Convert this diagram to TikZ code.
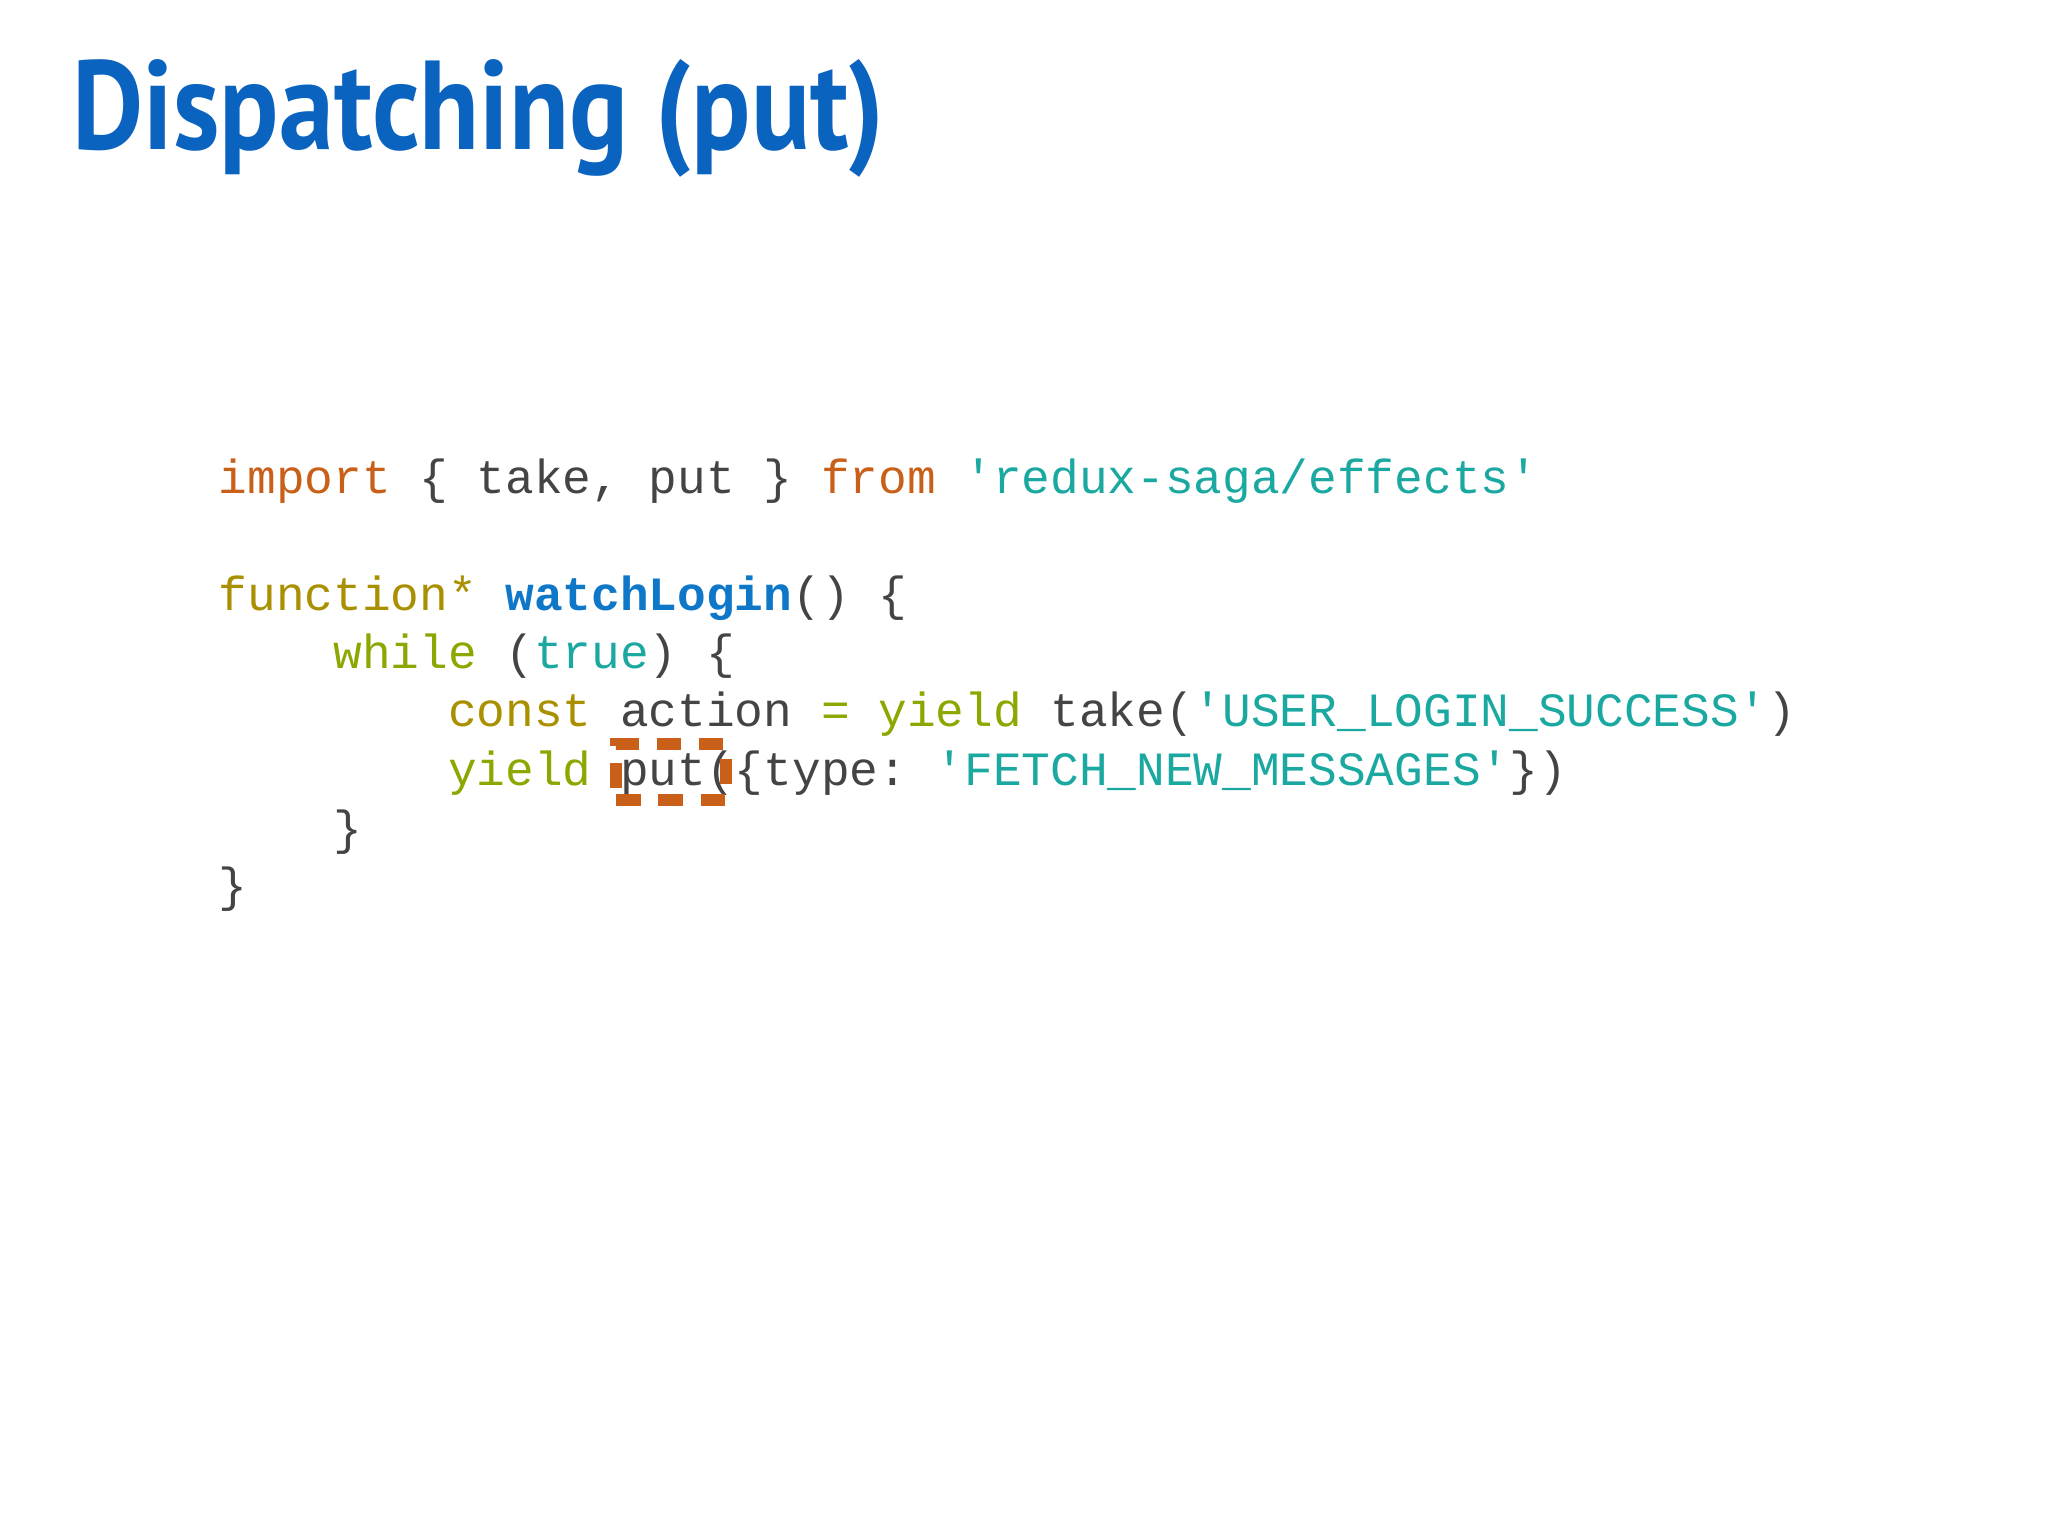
\documentclass[tikz,border=0pt]{standalone}
\usepackage{fontspec}
\setmainfont{PT Sans}
\setmonofont{Liberation Mono}
\definecolor{kwor}{HTML}{C8601A}
\definecolor{str}{HTML}{1AA8A0}
\definecolor{olv}{HTML}{A89000}
\definecolor{ygr}{HTML}{8CA800}
\definecolor{fnb}{HTML}{0F77C8}
\definecolor{txt}{HTML}{444444}
\definecolor{ttl}{HTML}{0B63C0}
\begin{document}
\begin{tikzpicture}[x=1cm,y=-1cm,
  code/.style={anchor=base west,inner sep=0pt,font=\ttfamily\fontsize{13.6pt}{16pt}\selectfont,text=txt}]
\useasboundingbox (0,0) rectangle (20.48,15.36);
\node[anchor=base west,inner sep=0pt,text=ttl,font=\bfseries\fontsize{36pt}{42pt}\selectfont] (title) at (0.72,1.50) {\scalebox{0.87}[1]{Dispatching (put)}};
\node[code] (l1) at (2.18,4.94) {\textcolor{kwor}{import} \{ take, put \} \textcolor{kwor}{from} \textcolor{str}{'redux-saga/effects'}};
\node[code] (l2) at (2.18,6.10) {\textcolor{olv}{function*} \textcolor{fnb}{\bfseries watchLogin}() \{};
\node[code] (l3) at (2.18,6.69) {\ \ \ \ \textcolor{ygr}{while} (\textcolor{str}{true}) \{};
\node[code] (l4) at (2.18,7.26) {\ \ \ \ \ \ \ \ \textcolor{olv}{const} action \textcolor{ygr}{=} \textcolor{ygr}{yield} take(\textcolor{str}{'USER\_LOGIN\_SUCCESS'})};
\node[code] (l5) at (2.18,7.85) {\ \ \ \ \ \ \ \ \textcolor{ygr}{yield} put(\{type: \textcolor{str}{'FETCH\_NEW\_MESSAGES'}\})};
\node[code] (l6) at (2.18,8.44) {\ \ \ \ \}};
\node[code] (l7) at (2.18,9.01) {\}};
\node[draw=kwor,line width=3.5pt,dash pattern=on 7pt off 5pt,inner sep=0pt,minimum width=1.10cm,minimum height=0.56cm,anchor=north west] (box) at (6.10,7.38) {};
\end{tikzpicture}
\end{document}
